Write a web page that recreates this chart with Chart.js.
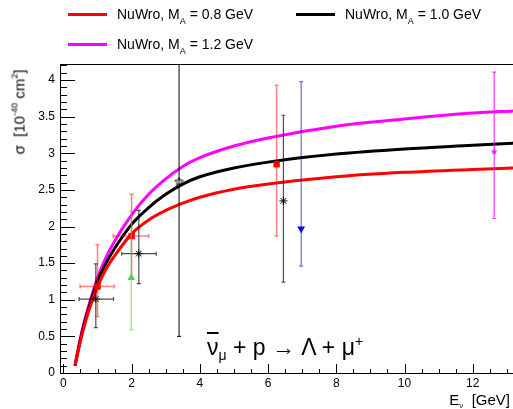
<!DOCTYPE html>
<html>
<head>
<meta charset="utf-8">
<script src="https://cdn.jsdelivr.net/npm/chart.js@4/dist/chart.umd.min.js"></script>
<style>
html, body { margin: 0; padding: 0; background: #fff; }
#wrap { position: relative; width: 513px; height: 409px; overflow: hidden;
        font-family: "Liberation Sans", Arial, Helvetica, sans-serif; color: #000; }
#wrap canvas { position: absolute; left: 0; top: 0; }
.lg { position: absolute; font-size: 14px; line-height: 16px; white-space: nowrap; }
.lg .sw { display: inline-block; width: 39px; height: 3px; vertical-align: middle;
          margin-right: 10px; position: relative; top: -1px; }
.lg sub { font-size: 9px; vertical-align: -5px; line-height: 0; }
#ytitle { position: absolute; left: 19px; top: 112px; font-size: 15px; white-space: nowrap;
          transform: translate(-50%, -50%) rotate(-90deg); }
#ytitle sup { font-size: 9px; vertical-align: 7px; line-height: 0; }
#xtitle { position: absolute; right: 3px; top: 391px; font-size: 15px; white-space: nowrap; }
#xtitle sub { font-size: 8px; vertical-align: -3px; line-height: 0; }
#reac { position: absolute; left: 207px; top: 334px; font-size: 23px; white-space: nowrap; }
#reac sub { font-size: 14px; vertical-align: -5px; line-height: 0; }
#reac sup { font-size: 14px; vertical-align: 9px; line-height: 0; }
.bar { text-decoration: overline; }
</style>
</head>
<body>
<div id="wrap">
  <canvas id="sigmaChart" width="513" height="409"></canvas>
  <div class="lg" style="left:68px; top:6px;"><span class="sw" style="background:#ff0000"></span>NuWro, M<sub>A</sub> = 0.8 GeV</div>
  <div class="lg" style="left:296px; top:6px;"><span class="sw" style="background:#000000"></span>NuWro, M<sub>A</sub> = 1.0 GeV</div>
  <div class="lg" style="left:68px; top:36px;"><span class="sw" style="background:#ff00ff"></span>NuWro, M<sub>A</sub> = 1.2 GeV</div>
  <div id="ytitle">σ &nbsp;[10<sup>-40</sup> cm<sup>2</sup>]</div>
  <div id="xtitle">E<sub>ν</sub> &nbsp;[GeV]</div>
  <div id="reac"><span class="bar">ν</span><sub>μ</sub> + p → Λ + μ<sup>+</sup></div>
</div>
<script>
// NuWro predictions (σ in 10^-40 cm^2 vs E in GeV)
const curveE    = [0.34, 0.4, 0.5, 0.6, 0.75, 1.0, 1.25, 1.5, 2.0, 2.5, 3.0, 3.5, 4.0, 5.0, 6.0, 8.0, 10.0, 12.0, 13.2];
const sigmaMA08 = [0.10, 0.23, 0.44, 0.62, 0.86, 1.18, 1.42, 1.60, 1.90, 2.09, 2.22, 2.32, 2.40, 2.51, 2.58, 2.68, 2.74, 2.78, 2.80];
const sigmaMA10 = [0.10, 0.24, 0.46, 0.65, 0.90, 1.25, 1.50, 1.70, 2.03, 2.26, 2.44, 2.58, 2.68, 2.80, 2.88, 2.99, 3.06, 3.11, 3.14];
const sigmaMA12 = [0.11, 0.25, 0.48, 0.68, 0.93, 1.30, 1.58, 1.80, 2.16, 2.44, 2.65, 2.82, 2.94, 3.10, 3.21, 3.37, 3.47, 3.55, 3.58];

// measurements: E, sigma, E range, sigma range
const redE      = [1.00, 2.00, 6.25];
const redSigma  = [1.18, 1.87, 2.85];
const redELo    = [0.49, 1.46, 6.25];
const redEHi    = [1.49, 2.50, 6.25];
const redSLo    = [0.77, 1.30, 1.87];
const redSHi    = [1.75, 2.44, 3.93];

const starE     = [0.95, 2.21, 6.45];
const starSigma = [1.01, 1.63, 2.35];
const starELo   = [0.46, 1.71, 6.45];
const starEHi   = [1.47, 2.72, 6.45];
const starSLo   = [0.62, 1.22, 1.24];
const starSHi   = [1.49, 2.22, 3.52];

const openE = [3.39], openSigma = [2.61], openSLo = [0.50], openSHi = [4.72];
const greenE = [1.99], greenSigma = [1.30], greenSLo = [0.59], greenSHi = [2.21];
const blueE = [6.97], blueSigma = [1.97], blueSLo = [1.46], blueSHi = [3.98];
const magE = [12.63], magSigma = [3.02], magSLo = [2.11], magSHi = [4.11];

const xTickValues = [0, 2, 4, 6, 8, 10, 12];
const yTickValues = [0, 0.5, 1, 1.5, 2, 2.5, 3, 3.5, 4];

const FONT = '"Liberation Sans", Arial, Helvetica, sans-serif';

function _pts(xs, ys) {
    return xs.map((x, i) => ({ x, y: ys[i] }));
}

function _starMarker(size, color, filled) {
    const c = document.createElement('canvas');
    c.width = size; c.height = size;
    const g = c.getContext('2d');
    const r = size / 2 - 1, ri = r * 0.45, cx = size / 2, cy = size / 2;
    g.beginPath();
    for (let k = 0; k < 10; k++) {
        const a = -Math.PI / 2 + k * Math.PI / 5;
        const rr = k % 2 ? ri : r;
        g.lineTo(cx + rr * Math.cos(a), cy + rr * Math.sin(a));
    }
    g.closePath();
    if (filled) { g.fillStyle = color; g.fill(); }
    else { g.strokeStyle = color; g.lineWidth = 1; g.stroke(); }
    return c;
}

function _curve(label, ys, color) {
    return {
        type: 'line', label, data: _pts(curveE, ys), order: 1,
        borderColor: color, borderWidth: 3, pointRadius: 0,
        cubicInterpolationMode: 'monotone', fill: false
    };
}

function _points(label, xs, ys, err, style) {
    return Object.assign({
        type: 'scatter', label, data: _pts(xs, ys), order: 0, err
    }, style);
}

// error bars, drawn just before the markers of each dataset
const errorBars = {
    id: 'errorBars',
    beforeDatasetDraw(chart, args) {
        const ds = chart.data.datasets[args.index];
        if (!ds.err) return;
        const { ctx, chartArea: ca } = chart;
        const sx = chart.scales.x, sy = chart.scales.y;
        const e = ds.err;
        ctx.save();
        ctx.beginPath();
        ctx.rect(ca.left, ca.top, ca.right - ca.left, ca.bottom - ca.top);
        ctx.clip();
        ctx.strokeStyle = e.color;
        ctx.lineWidth = e.width || 1;
        ds.data.forEach((p, i) => {
            const px = sx.getPixelForValue(p.x), py = sy.getPixelForValue(p.y);
            const y1 = sy.getPixelForValue(e.sLo[i]), y2 = sy.getPixelForValue(e.sHi[i]);
            ctx.beginPath();
            ctx.moveTo(px, y1); ctx.lineTo(px, y2);
            ctx.moveTo(px - 2, y1); ctx.lineTo(px + 2, y1);
            ctx.moveTo(px - 2, y2); ctx.lineTo(px + 2, y2);
            if (e.eLo && e.eLo[i] !== e.eHi[i]) {
                const x1 = sx.getPixelForValue(e.eLo[i]), x2 = sx.getPixelForValue(e.eHi[i]);
                ctx.moveTo(x1, py); ctx.lineTo(x2, py);
                ctx.moveTo(x1, py - 2); ctx.lineTo(x1, py + 2);
                ctx.moveTo(x2, py - 2); ctx.lineTo(x2, py + 2);
            }
            ctx.stroke();
        });
        ctx.restore();
    }
};

// ROOT-like frame: inward major/minor ticks and top border
const frameTicks = {
    id: 'frameTicks',
    afterDraw(chart) {
        const { ctx, chartArea: ca } = chart;
        const sx = chart.scales.x, sy = chart.scales.y;
        ctx.save();
        ctx.strokeStyle = '#000';
        ctx.lineWidth = 1;
        ctx.beginPath();
        ctx.moveTo(ca.left, ca.top + 0.5); ctx.lineTo(ca.right, ca.top + 0.5);
        for (let k = 0; k <= 42; k++) {
            const v = k / 10;
            const y = Math.round(sy.getPixelForValue(v)) + 0.5;
            const len = k % 5 === 0 ? 15 : 7;
            ctx.moveTo(ca.left, y); ctx.lineTo(ca.left + len, y);
        }
        for (let k = 0; k <= 26; k++) {
            const v = k / 2;
            const x = Math.round(sx.getPixelForValue(v)) + 0.5;
            const len = k % 4 === 0 ? 9 : 4;
            ctx.moveTo(x, ca.bottom); ctx.lineTo(x, ca.bottom - len);
        }
        ctx.stroke();
        ctx.restore();
    }
};

// first entry is drawn last (on top)
const datasets = [
    _points('green data', greenE, greenSigma,
        { sLo: greenSLo, sHi: greenSHi, color: 'rgba(90,200,90,0.55)', width: 1.5 },
        { pointStyle: 'triangle', pointRadius: 4.5, backgroundColor: '#5ccc5c', borderColor: '#5ccc5c', borderWidth: 0 }),
    _points('red data', redE, redSigma,
        { eLo: redELo, eHi: redEHi, sLo: redSLo, sHi: redSHi, color: 'rgba(255,0,0,0.5)', width: 1.5 },
        { pointStyle: 'rect', pointRadius: 4.5, backgroundColor: '#ff0000', borderColor: '#ff0000', borderWidth: 0 }),
    _points('black data', starE, starSigma,
        { eLo: starELo, eHi: starEHi, sLo: starSLo, sHi: starSHi, color: 'rgba(0,0,0,0.7)', width: 1.2 },
        { pointStyle: 'star', pointRadius: 4, borderColor: '#000', borderWidth: 1 }),
    _points('open star', openE, openSigma,
        { sLo: openSLo, sHi: openSHi, color: '#000', width: 1 },
        { pointStyle: _starMarker(11, '#000', false) }),
    _points('blue data', blueE, blueSigma,
        { sLo: blueSLo, sHi: blueSHi, color: 'rgba(0,0,255,0.6)', width: 1.2 },
        { pointStyle: 'triangle', rotation: 180, pointRadius: 4.5, backgroundColor: '#0000ff', borderColor: '#0000ff', borderWidth: 0 }),
    _points('magenta data', magE, magSigma,
        { sLo: magSLo, sHi: magSHi, color: 'rgba(255,0,255,0.8)', width: 1.2 },
        { pointStyle: _starMarker(9, '#ff00ff', true) }),
    _curve('NuWro, MA = 0.8 GeV', sigmaMA08, '#ff0000'),
    _curve('NuWro, MA = 1.0 GeV', sigmaMA10, '#000000'),
    _curve('NuWro, MA = 1.2 GeV', sigmaMA12, '#ff00ff')
];

new Chart(document.getElementById('sigmaChart'), {
    type: 'scatter',
    data: { datasets },
    options: {
        responsive: false,
        animation: false,
        events: [],
        layout: { autoPadding: false, padding: { top: 64, right: 0, left: 0, bottom: 0 } },
        plugins: { legend: { display: false }, tooltip: { enabled: false } },
        scales: {
            x: {
                type: 'linear', min: -0.1, max: 13.18,
                grid: { display: false, drawTicks: false },
                border: { display: true, color: '#000', width: 1 },
                ticks: { padding: 3, color: '#000', font: { family: FONT, size: 12 }, maxRotation: 0, autoSkip: false },
                afterBuildTicks: s => { s.ticks = xTickValues.map(v => ({ value: v })); },
                afterFit: s => { s.height = 36; }
            },
            y: {
                type: 'linear', min: 0, max: 4.22,
                grid: { display: false, drawTicks: false },
                border: { display: true, color: '#000', width: 1 },
                ticks: { padding: 5, color: '#000', font: { family: FONT, size: 12 }, autoSkip: false,
                         callback: v => String(v) },
                afterBuildTicks: s => { s.ticks = yTickValues.map(v => ({ value: v })); },
                afterFit: s => { s.width = 60; }
            }
        }
    },
    plugins: [errorBars, frameTicks]
});
</script>
</body>
</html>
